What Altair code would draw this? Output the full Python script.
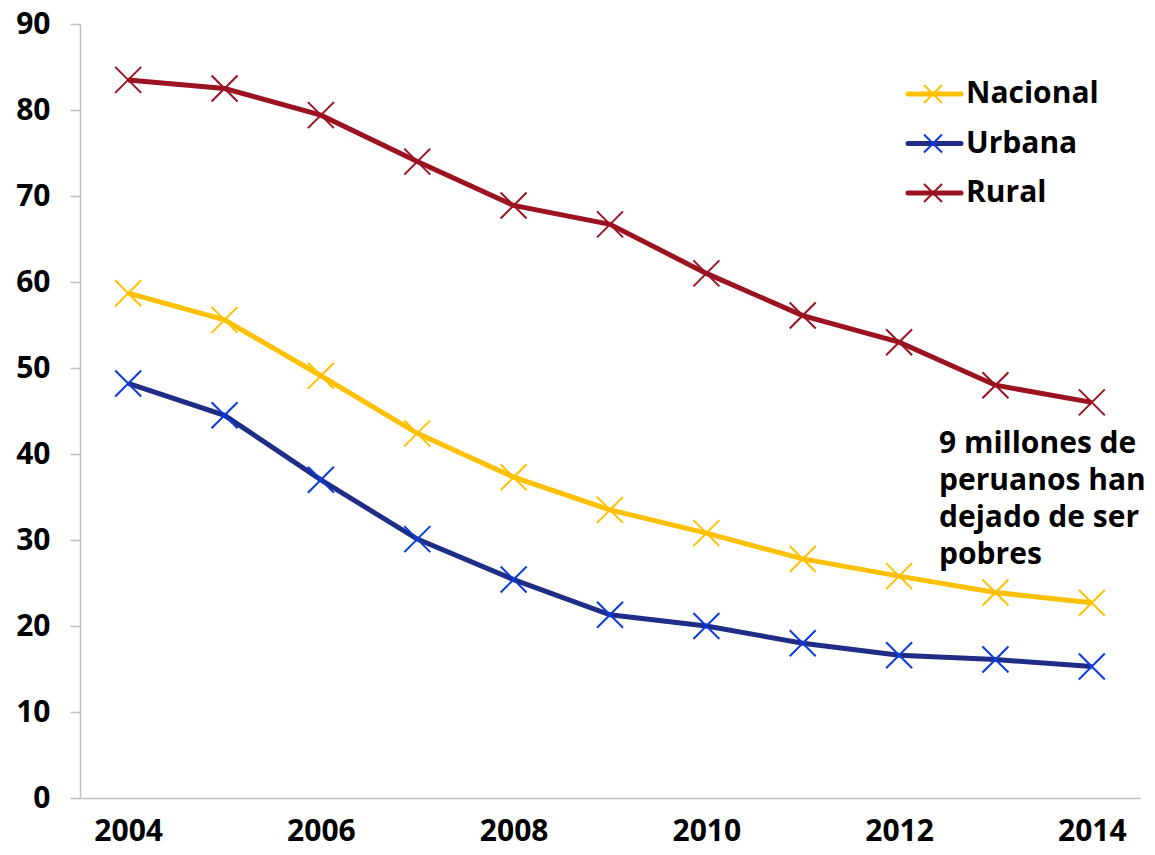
import altair as alt
import pandas as pd

YEARS = [2004, 2005, 2006, 2007, 2008, 2009, 2010, 2011, 2012, 2013, 2014]
NACIONAL = [58.7, 55.6, 49.1, 42.4, 37.3, 33.5, 30.8, 27.8, 25.8, 23.9, 22.7]
URBANA = [48.2, 44.5, 37.0, 30.1, 25.4, 21.3, 20.0, 18.0, 16.6, 16.1, 15.3]
RURAL = [83.5, 82.5, 79.4, 74.0, 68.9, 66.7, 61.0, 56.1, 53.0, 48.0, 46.0]
SERIES = ["Nacional", "Urbana", "Rural"]
LINE_COLORS = ["#FFC000", "#1F2D86", "#9B1320"]
MARKER_COLORS = ["#FFC000", "#0B3BDB", "#9B1320"]
Y_TICKS = [0, 10, 20, 30, 40, 50, 60, 70, 80, 90]
X_TICKS = [2004, 2006, 2008, 2010, 2012, 2014]
ANNOTATION_LINES = ["9 millones de", "peruanos han", "dejado de ser", "pobres"]

FONT = "Open Sans"
XMARK = "M-1,-1L1,1M-1,1L1,-1"

rows = []
for name, vals in zip(SERIES, [NACIONAL, URBANA, RURAL]):
    for yr, v in zip(YEARS, vals):
        rows.append({"serie": name, "year": yr, "value": v})
df = pd.DataFrame(rows)

x = alt.X("year:Q", scale=alt.Scale(domain=[2003.5, 2014.5], nice=False, zero=False),
          axis=alt.Axis(values=X_TICKS, format="d", title=None, ticks=False,
                        labelPadding=18, labelFontSize=30, labelFont=FONT,
                        labelFontWeight="bold", labelColor="#000000",
                        domainColor="#BFBFBF", domainWidth=1.5, grid=False))
y = alt.Y("value:Q", scale=alt.Scale(domain=[0, 90], nice=False),
          axis=alt.Axis(values=Y_TICKS, title=None, tickSize=10, tickColor="#BFBFBF",
                        tickWidth=1.5, labelPadding=20, labelFontSize=30, labelFont=FONT,
                        labelFontWeight="bold", labelColor="#000000",
                        domainColor="#BFBFBF", domainWidth=1.5, grid=False))

color = alt.Color("serie:N", scale=alt.Scale(domain=SERIES, range=LINE_COLORS), legend=None)
stroke = alt.Stroke("serie:N", scale=alt.Scale(domain=SERIES, range=MARKER_COLORS), legend=None)

lines = alt.Chart(df).mark_line(strokeWidth=5).encode(x=x, y=y, color=color, detail="serie:N")
points = alt.Chart(df).mark_point(shape=XMARK, filled=False, size=676, strokeWidth=2, opacity=1).encode(
    x="year:Q", y="value:Q", stroke=stroke)

main = alt.layer(lines, points)

leg_df = pd.DataFrame({"serie": SERIES, "idx": list(range(len(SERIES)))})
ly = alt.Y("idx:Q", scale=alt.Scale(domain=[0, 2], range=[70, 169], nice=False, zero=False), axis=None)
leg_line = alt.Chart(leg_df).mark_rule(strokeWidth=5, strokeCap="round").encode(
    x=alt.value(828), x2=alt.value(881), y=ly, color=color)
leg_mark = alt.Chart(leg_df).mark_point(shape=XMARK, filled=False, size=324, strokeWidth=2, opacity=1).encode(
    x=alt.value(853), y=ly, stroke=stroke)
leg_text = alt.Chart(leg_df).mark_text(align="left", baseline="middle", font=FONT, fontWeight="bold",
                                       fontSize=30, color="#000000").encode(
    x=alt.value(886), y=ly, text="serie:N")
legend = alt.layer(leg_line, leg_mark, leg_text)

ann_df = pd.DataFrame({"t": ["\n".join(ANNOTATION_LINES)]})
ann = alt.Chart(ann_df).mark_text(align="left", baseline="alphabetic", font=FONT, fontWeight="bold",
                                  fontSize=30, lineBreak="\n", lineHeight=37, color="#000000").encode(
    x=alt.value(859), y=alt.value(429), text="t:N")

chart = alt.layer(main, legend, ann).resolve_scale(y="independent").properties(
    width=1060, height=774,
    autosize=alt.AutoSizeParams(type="none"),
    padding={"left": 72, "top": 16, "right": 7, "bottom": 50},
).configure_view(stroke=None)

chart.save("out.html", embed_options={"renderer": "svg", "actions": False})
